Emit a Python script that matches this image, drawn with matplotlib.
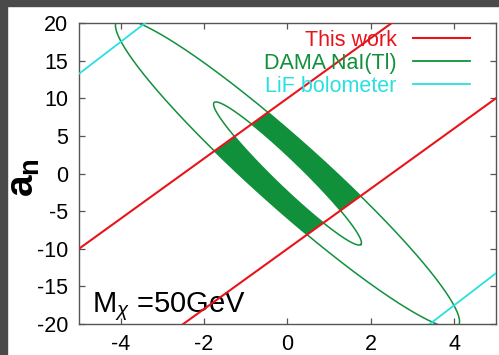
import numpy as np
import matplotlib
matplotlib.use("Agg")
import matplotlib.pyplot as plt
from matplotlib.path import Path
from matplotlib.patches import PathPatch, Polygon, Rectangle

plt.rcParams['font.family'] = ['Liberation Sans', 'DejaVu Sans']
plt.rcParams['mathtext.fontset'] = 'custom'
plt.rcParams['mathtext.rm'] = 'Liberation Sans'
plt.rcParams['mathtext.it'] = 'Liberation Sans:italic'
plt.rcParams['mathtext.bf'] = 'Liberation Sans:bold'
plt.rcParams['axes.unicode_minus'] = False

# a_p axis range and the straight-line constraints a_n = slope*a_p + offset
ap = np.linspace(-6, 6, 300)
red_slope = 4.0
red_offsets = [10.0, -10.0]
lif_slope = 4.25
lif_offsets = [34.5, -34.5]

# DAMA ellipses: centre, semi-major vector, conjugate semi-minor vector
dama_center = [0.0, 0.0]
outer_major = [4.09, -20.27]
outer_minor = [0.54, 3.3]
inner_major = [1.76, -9.43]
inner_minor = [0.22, 1.24]

xticks = [-4, -2, 0, 2, 4]
yticks = [-20, -15, -10, -5, 0, 5, 10, 15, 20]

red = '#e8141c'
green = '#11903c'
cyan = '#28e0e0'


def ellipse(major, minor, n=400):
    t = np.linspace(0, 2 * np.pi, n)
    x = dama_center[0] + major[0] * np.cos(t) + minor[0] * np.sin(t)
    y = dama_center[1] + major[1] * np.cos(t) + minor[1] * np.sin(t)
    return x, y


fig = plt.figure(figsize=(4.99, 3.55), dpi=100)
ax = fig.add_axes([0.1583, 0.0873, 0.8357, 0.8479])

ox, oy = ellipse(outer_major, outer_minor)
ix, iy = ellipse(inner_major, inner_minor)

# filled region: between the two ellipses, inside the red band
verts = np.concatenate([np.column_stack([ox, oy]), np.column_stack([ix, iy])[::-1]])
codes = np.full(len(verts), Path.LINETO)
codes[0] = Path.MOVETO
codes[len(ox)] = Path.MOVETO
ring = PathPatch(Path(verts, codes), facecolor=green, edgecolor='none', zorder=1)
ax.add_patch(ring)
upper = red_slope * ap + red_offsets[0]
lower = red_slope * ap + red_offsets[1]
band = Polygon(np.concatenate([np.column_stack([ap, upper]),
                               np.column_stack([ap, lower])[::-1]]),
               closed=True, transform=ax.transData)
ring.set_clip_path(band)

ax.plot(ox, oy, color=green, lw=1.1, zorder=2)
ax.plot(ix, iy, color=green, lw=1.1, zorder=2)

for i, off in enumerate(lif_offsets):
    ax.plot(ap, lif_slope * ap + off, color=cyan, lw=1.3, zorder=3,
            label='LiF bolometer' if i == 0 else None)
for i, off in enumerate(red_offsets):
    ax.plot(ap, red_slope * ap + off, color=red, lw=1.5, zorder=4,
            label='This work' if i == 0 else None)
ax.plot([], [], color=green, lw=1.3, label='DAMA NaI(Tl)')

h, l = ax.get_legend_handles_labels()
order = [l.index('This work'), l.index('DAMA NaI(Tl)'), l.index('LiF bolometer')]
ax.legend([h[i] for i in order], [l[i] for i in order],
          loc='upper right', bbox_to_anchor=(0.9376, 0.978), borderaxespad=0,
          borderpad=0, frameon=False, markerfirst=False, labelcolor='linecolor',
          fontsize=15.5, handlelength=2.65, handletextpad=0.75, labelspacing=0.1)

ax.text(0.031, 0.04, r'M$_{\chi}$ =50GeV', transform=ax.transAxes,
        fontsize=21, va='baseline', ha='left')
fig.text(0.048, 0.5, r'$\mathbf{a}_\mathbf{n}$', rotation=90, fontsize=28,
         ha='center', va='center')

ax.set_xlim(-5, 5)
ax.set_ylim(-20, 20)
ax.set_xticks(xticks)
ax.set_yticks(yticks)
ax.tick_params(direction='in', top=True, right=True, length=4, width=0.9,
               color='#555555', labelsize=15.5)
ax.tick_params(axis='y', pad=8)
ax.tick_params(axis='x', pad=7)
for s in ax.spines.values():
    s.set_color('#555555')
    s.set_linewidth(1.0)

# dark screenshot border on the left and top
fig.patches.append(Rectangle((0, 0), 7 / 499, 1, transform=fig.transFigure,
                             color='#4a4a4a', zorder=10))
fig.patches.append(Rectangle((0, 1 - 6 / 355), 1, 6 / 355, transform=fig.transFigure,
                             color='#4a4a4a', zorder=10))

fig.savefig('out.png', dpi=100)
